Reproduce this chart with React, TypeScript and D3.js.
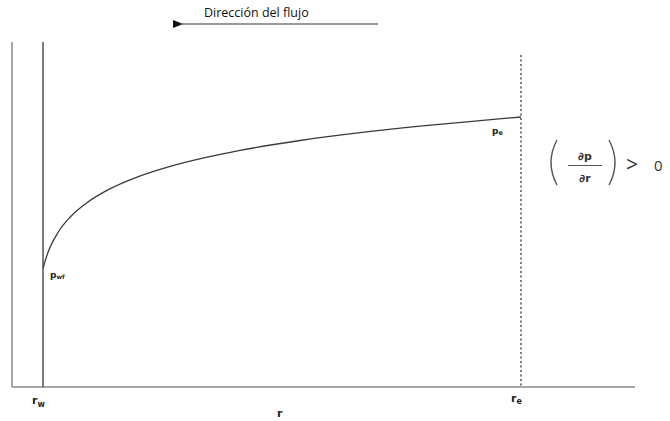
import React from "react";
import * as d3 from "d3";

// Radial distance (arbitrary units, 0 = left axis) and pressure (arbitrary units)
const rValues = [4.98, 5.78, 7.38, 9.31, 12.2, 15.09, 20.39, 25.68, 31.14, 36.6, 46.23, 55.86, 65.49, 75.12, 81.7];
const pValues = [34.49, 39.04, 44.78, 49.22, 53.65, 56.84, 61.04, 64.09, 66.55, 68.58, 71.45, 73.71, 75.59, 77.22, 78.26];
const rW = 4.98;
const rE = 81.7;
const titleText = "Dirección del flujo";

const W = 670;
const H = 421;

export default function App() {
  const x = d3.scaleLinear().domain([0, 100]).range([12, 635]);
  const y = d3.scaleLinear().domain([0, 100]).range([387, 42]);
  const pts: [number, number][] = rValues.map((r, i) => [r, pValues[i]]);
  const line = d3
    .line<[number, number]>()
    .x((d) => x(d[0]))
    .y((d) => y(d[1]))
    .curve(d3.curveMonotoneX);

  const stroke = "#3a3a3a";
  const font = "'DejaVu Sans', Arial, sans-serif";
  const lblFont = "'Open Sans', 'Liberation Sans', Arial, sans-serif";

  return (
    <svg
      width={W}
      height={H}
      viewBox={`0 0 ${W} ${H}`}
      style={{ position: "absolute", left: 0, top: 0, background: "#fff" }}
    >
      <defs>
        <marker id="arrowHead" markerWidth="10" markerHeight="8" refX="1" refY="4" orient="auto" markerUnits="userSpaceOnUse">
          <path d="M10,0 L0,4 L10,8 Z" fill="#111" />
        </marker>
      </defs>

      {/* flow direction */}
      <text x={204} y={17} fontFamily={lblFont} fontSize={12.5} fill="#111">
        {titleText}
      </text>
      <line x1={378} y1={24} x2={182} y2={24} stroke="#777" strokeWidth={1.3} markerEnd="url(#arrowHead)" />

      {/* axes */}
      <line x1={x(0)} y1={y(100)} x2={x(0)} y2={y(0)} stroke="#777" strokeWidth={1.3} />
      <line x1={x(0)} y1={y(0)} x2={x(100)} y2={y(0)} stroke="#888" strokeWidth={1.3} />

      {/* rw wall */}
      <line x1={x(rW)} y1={y(100)} x2={x(rW)} y2={y(0)} stroke="#444" strokeWidth={1.4} />
      {/* re boundary */}
      <line x1={x(rE)} y1={y(96.2)} x2={x(rE)} y2={y(0)} stroke="#444" strokeWidth={1.4} strokeDasharray="2,2.5" />

      {/* pressure profile */}
      <path d={line(pts) ?? ""} fill="none" stroke={stroke} strokeWidth={1.3} />

      {/* labels */}
      <text x={x(rW) + 7} y={y(pValues[0]) + 10} fontFamily={font} fontSize={9} fontWeight="bold" fill="#222">
        p<tspan fontSize={6} dy={1}>wf</tspan>
      </text>
      <text x={x(rE) - 29} y={y(pValues[pValues.length - 1]) + 17} fontFamily={font} fontSize={9} fontWeight="bold" fill="#222">
        p<tspan fontSize={6.5} dy={1}>e</tspan>
      </text>

      <text x={x(rW) - 11} y={y(0) + 17} fontFamily={font} fontSize={11} fontWeight="bold" fill="#222">
        r<tspan fontSize={8} dy={3}>w</tspan>
      </text>
      <text x={x(rE) - 10} y={y(0) + 15} fontFamily={font} fontSize={11} fontWeight="bold" fill="#222">
        r<tspan fontSize={8} dy={2}>e</tspan>
      </text>
      <text x={277} y={y(0) + 30} fontFamily={font} fontSize={11} fontWeight="bold" fill="#222">
        r
      </text>

      {/* (∂p/∂r) > 0 */}
      <path d="M557,140 Q545,162.5 557,185" fill="none" stroke="#555" strokeWidth={1.4} />
      <text x={585} y={160} fontFamily={font} fontSize={11} fontWeight="bold" fill="#333" textAnchor="middle">
        ∂p
      </text>
      <line x1={568} y1={165.5} x2={602} y2={165.5} stroke="#555" strokeWidth={1} />
      <text x={585} y={182} fontFamily={font} fontSize={11} fontWeight="bold" fill="#333" textAnchor="middle">
        ∂r
      </text>
      <path d="M609,140 Q621,162.5 609,185" fill="none" stroke="#555" strokeWidth={1.4} />
      <text x={626} y={172} fontFamily={lblFont} fontSize={21} fill="#333">
        &gt;
      </text>
      <text x={654} y={171} fontFamily={lblFont} fontSize={15} fill="#333">
        0
      </text>
    </svg>
  );
}
